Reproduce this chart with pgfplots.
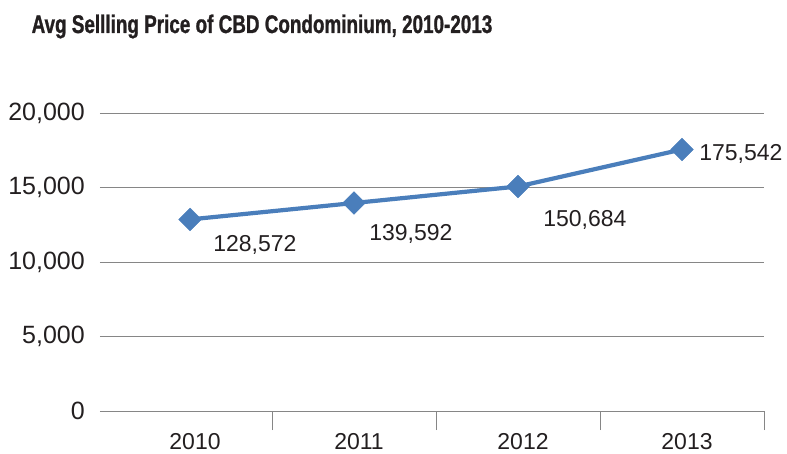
\documentclass[border=0pt]{standalone}
\usepackage{pgfplots}
\pgfplotsset{compat=1.18}
\usepackage{fontspec}
\setmainfont{Liberation Sans}
\newfontfamily\titlefont[FakeStretch=0.74, FakeBold=1]{Liberation Sans}
\definecolor{lineblue}{HTML}{4A7EBB}
\definecolor{gridgray}{HTML}{868686}
\definecolor{txt}{HTML}{231F20}
\begin{document}
\begin{tikzpicture}
\path[use as bounding box] (-100pt,-42pt) rectangle (687pt,411pt);
\begin{axis}[
  at={(0,0)}, anchor=south west,
  scale only axis, width=664pt, height=298pt,
  xmin=-0.549, xmax=3.5, ymin=0, ymax=20000,
  axis line style={draw=none},
  xtick pos=lower,
  xtick={0,1,2,3}, xticklabels={2010,2011,2012,2013},
  major tick length=0pt,
  extra x ticks={0.5,1.5,2.5,3.5}, extra x tick labels={},
  extra x tick style={tick align=outside, major tick length=19pt, tick style={gridgray, line width=0.9pt}},
  ytick={0,5000,10000,15000,20000},
  ymajorgrids, grid style={gridgray, line width=0.9pt},
  /pgf/number format/assume math mode=true,
  /pgf/number format/1000 sep={,},
  scaled y ticks=false,
  yticklabel style={inner sep=0pt, xshift=-15pt, font=\fontsize{25}{30}\selectfont, text=txt},
  xticklabel style={inner sep=0pt, yshift=-22pt, xshift=5pt, font=\fontsize{23}{28}\selectfont, text=txt},
  clip=false,
]
\addplot[lineblue, line width=4.2pt, mark=square*, mark size=8pt,
  mark options={rotate=45, solid, line width=0.5pt},
  nodes near coords, point meta=explicit symbolic,
  visualization depends on={value \thisrow{dx} \as \dx},
  visualization depends on={value \thisrow{dy} \as \dy},
  every node near coord/.append style={anchor=west, inner sep=0pt, xshift=\dx pt, yshift=\dy pt, font=\fontsize{23}{28}\selectfont, text=txt}]
  table[x=x, y=y, meta=label] {
  x y label dx dy
  0 12857.2 128,572 23 -26
  1 13959.2 139,592 15 -31
  2 15068.4 150,684 25 -33
  3 17554.2 175,542 17 -4
  };
\end{axis}
\node[anchor=base, font=\titlefont\bfseries\fontsize{25.5}{30}\selectfont, text=txt] at (262pt-100pt,378pt) {Avg Sellling Price of CBD Condominium, 2010-2013};
\end{tikzpicture}
\end{document}
